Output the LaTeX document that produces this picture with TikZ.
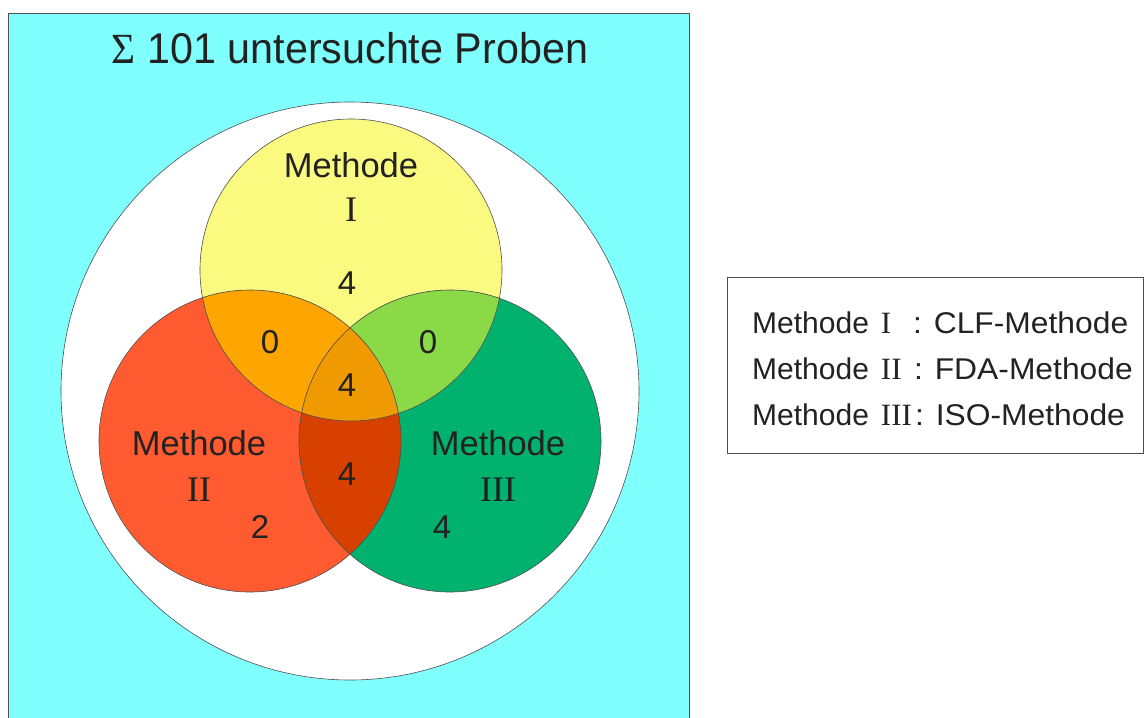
\documentclass[tikz,border=0pt]{standalone}
\usepackage{graphicx}
\usepackage{fontspec}
\setmainfont{Liberation Sans}
\newfontfamily\romfont{Liberation Serif}
\definecolor{bgcyan}{RGB}{128,255,255}
\definecolor{cI}{RGB}{250,250,128}
\definecolor{cII}{RGB}{255,90,48}
\definecolor{cIII}{RGB}{0,178,110}
\definecolor{cIandII}{RGB}{255,165,0}
\definecolor{cIandIII}{RGB}{138,217,70}
\definecolor{cIIandIII}{RGB}{216,64,0}
\definecolor{cAll}{RGB}{238,154,0}
\definecolor{ink}{RGB}{34,34,34}
\newcommand{\widetext}[1]{\scalebox{1.06}[1]{#1}}
\newcommand{\legrom}[1]{{\romfont\fontsize{31}{31}\selectfont #1}}
\begin{document}
\begin{tikzpicture}[x=1pt,y=-1pt,
  label/.style={text=ink,font=\fontsize{34.5}{34.5}\selectfont,inner sep=0pt},
  roman/.style={text=ink,font=\romfont\fontsize{36}{36}\selectfont,inner sep=0pt},
  num/.style={text=ink,font=\fontsize{33}{33}\selectfont,inner sep=0pt},
  legend/.style={text=ink,font=\fontsize{30}{30}\selectfont,inner sep=0pt,anchor=base west},
  outline/.style={draw=ink!80,line width=0.6pt}]
\useasboundingbox (0,0) rectangle (1144,718);
% background panel and outer circle
\fill[bgcyan,draw=ink!80,line width=0.6pt] (8,13) rectangle (689,730);
\filldraw[fill=white,draw=ink!80,line width=0.6pt] (350,391) circle[radius=289];
% coordinates of the circle centres
\coordinate (cA) at (351,270);
\coordinate (cB) at (250,441);
\coordinate (cC) at (450,441);
\def\rad{151}
% base fills
\fill[cI] (cA) circle[radius=\rad];
\fill[cII] (cB) circle[radius=\rad];
\fill[cIII] (cC) circle[radius=\rad];
% pairwise intersections
\begin{scope}
  \clip (cA) circle[radius=\rad];
  \fill[cIandII] (cB) circle[radius=\rad];
  \fill[cIandIII] (cC) circle[radius=\rad];
\end{scope}
\begin{scope}
  \clip (cB) circle[radius=\rad];
  \fill[cIIandIII] (cC) circle[radius=\rad];
  \clip (cC) circle[radius=\rad];
  \fill[cAll] (cA) circle[radius=\rad];
\end{scope}
% outlines
\draw[outline] (cA) circle[radius=\rad];
\draw[outline] (cB) circle[radius=\rad];
\draw[outline] (cC) circle[radius=\rad];
% title
\node[text=ink,font=\fontsize{43}{43}\selectfont,inner sep=0pt,anchor=base] (title) at (350,63)
  {\scalebox{0.96}[1]{{\romfont\char"03A3} 101 untersuchte Proben}};
% circle labels
\node[label] (mI) at (351,165) {Methode};
\node[roman] (rI) at (351,210) {I};
\node[num] (nI) at (347,283) {4};
\node[num] (nIII) at (270,342) {0};
\node[num] (nIIII) at (428,342) {0};
\node[num] (nAll) at (347,385) {4};
\node[label] (mII) at (199,443) {Methode};
\node[roman] (rII) at (199,490) {II};
\node[num] (nII) at (260,527) {2};
\node[num] (nIIIII) at (347,474) {4};
\node[label] (mIII) at (498,443) {Methode};
\node[roman] (rIII) at (498,490) {III};
\node[num] (nIIIonly) at (442,527) {4};
% legend
\draw[draw=ink!80,line width=0.6pt] (727,277) rectangle (1143,453);
\node[legend] (l1a) at (752,333) {Methode\hspace{12pt}\legrom{I}};
\node[legend] (l1b) at (913,333) {\widetext{: CLF-Methode}};
\node[legend] (l2a) at (752,379) {Methode\hspace{12pt}\legrom{II}};
\node[legend] (l2b) at (914,379) {\widetext{: FDA-Methode}};
\node[legend] (l3a) at (752,425) {Methode\hspace{12pt}\legrom{III}};
\node[legend] (l3b) at (915,425) {\widetext{: ISO-Methode}};
\end{tikzpicture}
\end{document}
